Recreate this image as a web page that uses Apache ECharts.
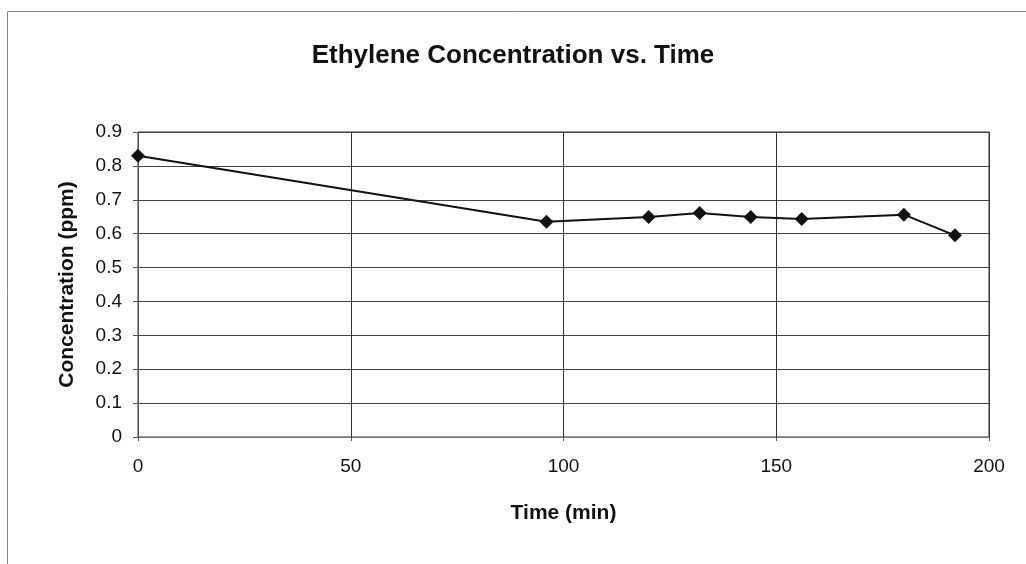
<!DOCTYPE html>
<html>
<head>
<meta charset="utf-8">
<script src="https://cdn.jsdelivr.net/npm/echarts@6/dist/echarts.min.js"></script>
<style>
  html, body { margin: 0; padding: 0; background: #fff; }
  #chart { width: 1026px; height: 564px; }
</style>
</head>
<body>
<div id="chart"></div>
<script>
// time in minutes and ethylene concentration in ppm
var timeMin = [0, 96, 120, 132, 144, 156, 180, 192];
var concPpm = [0.83, 0.635, 0.649, 0.661, 0.649, 0.643, 0.656, 0.595];

var points = timeMin.map(function (t, i) {
  return [t, concPpm[i]];
});

var myChart = echarts.init(document.getElementById("chart"));
var font = "Liberation Sans, Arial, sans-serif";

var option = {
  backgroundColor: "#fff",
  animation: false,
  title: {
    text: "Ethylene Concentration vs. Time",
    left: "center",
    top: 38,
    textStyle: {
      fontFamily: font,
      fontSize: 26,
      fontWeight: "bold",
      color: "#111",
    },
  },
  graphic: [
    {
      type: "rect",
      shape: { x: 7.5, y: 11.5, width: 1030, height: 560 },
      style: { fill: "none", stroke: "#888", lineWidth: 1 },
    },
  ],
  grid: {
    left: 138,
    right: 37,
    top: 132,
    bottom: 127,
    show: true,
    borderColor: "#333",
    borderWidth: 1,
  },
  xAxis: {
    type: "value",
    min: 0,
    max: 200,
    interval: 50,
    name: "Time (min)",
    nameLocation: "middle",
    nameGap: 66,
    nameTextStyle: {
      fontFamily: font,
      fontSize: 21,
      fontWeight: "bold",
      color: "#111",
    },
    axisLine: { lineStyle: { color: "#777" } },
    axisTick: { show: true, length: 4, lineStyle: { color: "#555" } },
    axisLabel: {
      fontFamily: font,
      fontSize: 19,
      color: "#111",
      margin: 20,
    },
    splitLine: { show: true, lineStyle: { color: "#333", width: 1 } },
  },
  yAxis: {
    type: "value",
    min: 0,
    max: 0.9,
    interval: 0.1,
    name: "Concentration (ppm)",
    nameLocation: "middle",
    nameGap: 60,
    nameRotate: 90,
    nameTextStyle: {
      fontFamily: font,
      fontSize: 21,
      fontWeight: "bold",
      color: "#111",
    },
    axisLine: { show: true, lineStyle: { color: "#555" } },
    axisTick: { show: true, length: 5, lineStyle: { color: "#555" } },
    axisLabel: {
      fontFamily: font,
      fontSize: 19,
      color: "#111",
      margin: 16,
      formatter: function (v) {
        return String(Math.round(v * 10) / 10);
      },
    },
    splitLine: { show: true, lineStyle: { color: "#444", width: 1 } },
  },
  series: [
    {
      type: "line",
      data: points,
      symbol: "diamond",
      symbolSize: 14,
      lineStyle: { color: "#111", width: 2 },
      itemStyle: { color: "#111" },
    },
  ],
};

myChart.setOption(option);
</script>
</body>
</html>
